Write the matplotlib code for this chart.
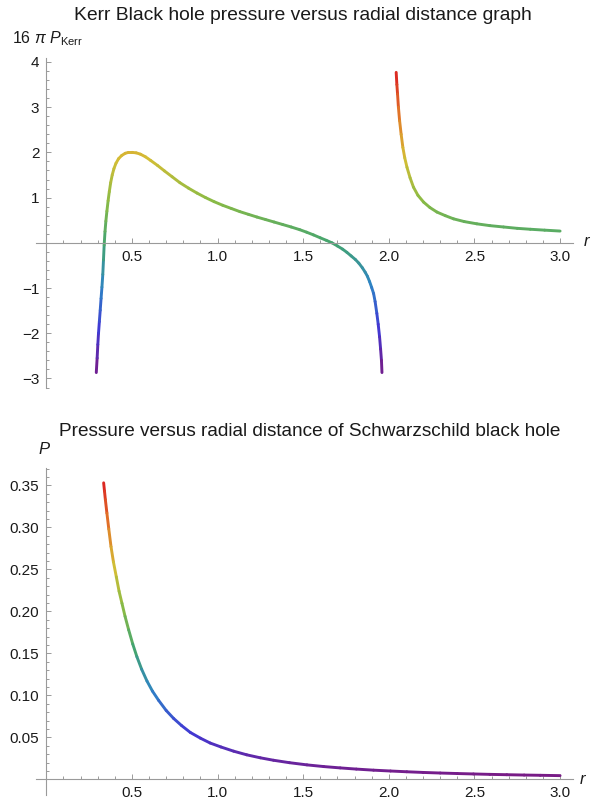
import matplotlib
matplotlib.use('Agg')
import matplotlib.pyplot as plt
import numpy as np
from matplotlib.collections import LineCollection
from matplotlib.colors import LinearSegmentedColormap, Normalize
from matplotlib.ticker import FixedLocator

plt.rcParams['font.family'] = ['Liberation Sans', 'DejaVu Sans']
plt.rcParams['mathtext.fontset'] = 'custom'
plt.rcParams['mathtext.rm'] = 'Liberation Sans'
plt.rcParams['mathtext.it'] = 'Liberation Sans:italic'

# Kerr branch below r = 2
r_kerr_a = [0.292, 0.297, 0.301, 0.305, 0.310, 0.315, 0.320, 0.325, 0.330, 0.334,
            0.338, 0.343, 0.348, 0.354, 0.361, 0.368, 0.376, 0.385, 0.395, 0.407,
            0.422, 0.440, 0.461, 0.480, 0.500, 0.525, 0.550, 0.580, 0.610, 0.650,
            0.690, 0.735, 0.780, 0.830, 0.880, 0.930, 0.980, 1.030, 1.080, 1.130,
            1.180, 1.230, 1.280, 1.330, 1.380, 1.430, 1.480, 1.520, 1.560, 1.600,
            1.635, 1.668, 1.700, 1.730, 1.755, 1.780, 1.805, 1.825, 1.845, 1.862,
            1.875, 1.888, 1.900, 1.911, 1.920, 1.930, 1.938, 1.946, 1.952, 1.957,
            1.960]
p_kerr_a = [-2.87, -2.55, -2.25, -2.00, -1.74, -1.49, -1.23, -0.98, -0.70, -0.38,
            -0.05, 0.25, 0.48, 0.70, 0.93, 1.13, 1.33, 1.50, 1.64, 1.76,
            1.86, 1.93, 1.98, 2.00, 2.00, 1.99, 1.96, 1.90, 1.82, 1.71,
            1.59, 1.46, 1.33, 1.21, 1.10, 1.00, 0.91, 0.83, 0.76, 0.69,
            0.63, 0.57, 0.515, 0.46, 0.405, 0.35, 0.29, 0.235, 0.175, 0.11,
            0.055, 0.00, -0.07, -0.14, -0.21, -0.29, -0.37, -0.45, -0.55, -0.65,
            -0.74, -0.86, -0.99, -1.12, -1.30, -1.56, -1.80, -2.08, -2.35, -2.60,
            -2.87]

# Kerr branch above r = 2
r_kerr_b = [2.043, 2.047, 2.051, 2.056, 2.063, 2.072, 2.082, 2.093, 2.106, 2.124,
            2.144, 2.170, 2.203, 2.240, 2.281, 2.330, 2.378, 2.440, 2.514, 2.590,
            2.670, 2.750, 2.826, 2.910, 3.000]
p_kerr_b = [3.77, 3.50, 3.29, 3.00, 2.70, 2.40, 2.11, 1.88, 1.67, 1.44,
            1.23, 1.05, 0.90, 0.78, 0.68, 0.60, 0.53, 0.47, 0.42, 0.38,
            0.35, 0.32, 0.30, 0.28, 0.26]

# Schwarzschild
r_sch = [0.335, 0.340, 0.345, 0.354, 0.365, 0.378, 0.392, 0.409, 0.425, 0.442,
         0.460, 0.481, 0.505, 0.529, 0.557, 0.588, 0.620, 0.656, 0.700, 0.743,
         0.790, 0.841, 0.900, 0.957, 1.020, 1.094, 1.170, 1.250, 1.327, 1.420,
         1.522, 1.620, 1.716, 1.810, 1.911, 2.010, 2.105, 2.200, 2.300, 2.400,
         2.494, 2.590, 2.689, 2.790, 2.884, 3.000]
p_sch = [0.353, 0.343, 0.333, 0.317, 0.298, 0.277, 0.259, 0.241, 0.224, 0.2095,
         0.194, 0.178, 0.161, 0.146, 0.131, 0.117, 0.105, 0.094, 0.082, 0.0726,
         0.064, 0.0558, 0.049, 0.0432, 0.0385, 0.0335, 0.0292, 0.0256, 0.0227, 0.0198,
         0.0172, 0.0152, 0.0136, 0.0122, 0.0109, 0.0099, 0.0090, 0.0082, 0.0075, 0.0069,
         0.0064, 0.0059, 0.0055, 0.0051, 0.0048, 0.0044]

# Mathematica-like "Rainbow"
rainbow = LinearSegmentedColormap.from_list('mma_rainbow', [
    (0.471, 0.109, 0.527), (0.253, 0.220, 0.833), (0.179, 0.514, 0.774),
    (0.266, 0.644, 0.441), (0.542, 0.734, 0.271), (0.833, 0.741, 0.206),
    (0.885, 0.468, 0.157), (0.857, 0.131, 0.132)])

axis_col = '#9a9a9a'
text_col = '#1a1a1a'

fig = plt.figure(figsize=(5.92, 7.98), dpi=100)


def colored_line(ax, x, y, norm):
    x = np.array(x)
    y = np.array(y)
    pts = np.column_stack([x, y]).reshape(-1, 1, 2)
    segs = np.concatenate([pts[:-1], pts[1:]], axis=1)
    lc = LineCollection(segs, cmap=rainbow, norm=norm, linewidth=2.1,
                        capstyle='round', joinstyle='round')
    lc.set_array(0.5 * (y[:-1] + y[1:]))
    ax.add_collection(lc)


def style_axes(ax, xminor, yminor):
    for s in ['top', 'right']:
        ax.spines[s].set_visible(False)
    ax.spines['left'].set_position(('data', 0))
    ax.spines['bottom'].set_position(('data', 0))
    for s in ['left', 'bottom']:
        ax.spines[s].set_color(axis_col)
        ax.spines[s].set_linewidth(0.8)
    ax.xaxis.set_minor_locator(FixedLocator(xminor))
    ax.yaxis.set_minor_locator(FixedLocator(yminor))
    ax.tick_params(which='both', direction='in', color=axis_col, width=0.7,
                   labelsize=11, labelcolor=text_col)
    ax.tick_params(which='major', length=3.5)
    ax.tick_params(which='minor', length=2.0)
    ax.tick_params(axis='x', pad=5)
    ax.tick_params(axis='y', pad=5)
    ax.set_facecolor('none')


xmajor = [0.5, 1.0, 1.5, 2.0, 2.5, 3.0]
xlabels = ['0.5', '1.0', '1.5', '2.0', '2.5', '3.0']
xminor = [round(0.1 * i, 1) for i in range(1, 31) if i % 5 != 0]

# top chart
ax1 = fig.add_axes([0.0608, 0.5144, 0.907, 0.4125])
colored_line(ax1, r_kerr_a, p_kerr_a, Normalize(-2.87, 3.77))
colored_line(ax1, r_kerr_b, p_kerr_b, Normalize(-2.87, 3.77))
ax1.set_xlim(-0.06, 3.075)
ax1.set_ylim(-3.2, 4.08)
style_axes(ax1, xminor, [round(-3.2 + 0.2 * i, 1) for i in range(37) if (i % 5) != 1])
ax1.set_xticks(xmajor)
ax1.set_xticklabels(xlabels)
ax1.set_yticks([-3, -2, -1, 1, 2, 3, 4])
ax1.set_yticklabels(['\u22123', '\u22122', '\u22121', '1', '2', '3', '4'])

fig.text(303 / 592, 1 - 16 / 798, 'Kerr Black hole pressure versus radial distance graph',
         ha='center', va='center', fontsize=13.9, color=text_col)
fig.text(12 / 592, 1 - 43 / 798, r'$16\ \pi\ P_{\mathrm{Kerr}}$', ha='left',
         va='baseline', fontsize=11.5, color=text_col)
fig.text(587 / 592, 1 - 241 / 798, r'$r$', ha='center', va='center', fontsize=12,
         color=text_col)

# bottom chart
ax2 = fig.add_axes([0.0608, 0.0034, 0.907, 0.4105])
colored_line(ax2, r_sch, p_sch, Normalize(min(p_sch), max(p_sch)))
ax2.set_xlim(-0.06, 3.075)
ax2.set_ylim(-0.019, 0.371)
style_axes(ax2, xminor, [round(0.01 * i, 2) for i in range(1, 38) if i % 5 != 0])
ax2.set_xticks(xmajor)
ax2.set_xticklabels(xlabels)
ax2.set_yticks([0.05, 0.10, 0.15, 0.20, 0.25, 0.30, 0.35])
ax2.set_yticklabels(['0.05', '0.10', '0.15', '0.20', '0.25', '0.30', '0.35'])

fig.text(310 / 592, 1 - 431 / 798, 'Pressure versus radial distance of Schwarzschild black hole',
         ha='center', va='center', fontsize=13.7, color=text_col)
fig.text(44 / 592, 1 - 449 / 798, r'$P$', ha='center', va='center', fontsize=12,
         color=text_col)
fig.text(583 / 592, 1 - 780 / 798, r'$r$', ha='center', va='center', fontsize=12,
         color=text_col)

fig.savefig('out.png', dpi=100)
